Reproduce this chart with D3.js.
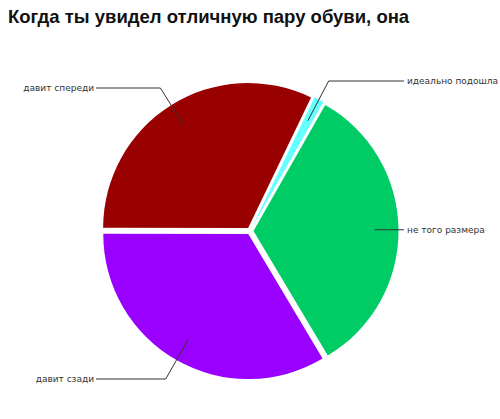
<!DOCTYPE html>
<html>
<head>
<meta charset="utf-8">
<script src="https://cdn.jsdelivr.net/npm/d3@7"></script>
<style>
  html, body { margin: 0; padding: 0; background: #fff; }
  svg { display: block; }
</style>
</head>
<body>
<svg id="chart" width="500" height="419"></svg>
<script>
// ---- data ----
const title = "Когда ты увидел отличную пару обуви, она";
const categories = ["идеально подошла", "не того размера", "давит сзади", "давит спереди"];
const values = [1.1, 33.2, 33.6, 32.1];
const colors = ["#66ffff", "#00cc66", "#9900ff", "#990000"];

// ---- layout ----
const W = 500, H = 419;
const cx = 250, cy = 231, R = 145, explode = 3.5, anchorR = 124.5;
const startDeg = 25.7;
const labelLineY = [81, null, 379, 88];   // null => horizontal at anchor height
const leftTextX = 94, rightTextX = 407;

const svg = d3.select("#chart");

svg.append("text")
  .attr("x", 8).attr("y", 23)
  .attr("font-family", "'Liberation Sans', Arial, sans-serif")
  .attr("font-size", 18.5).attr("font-weight", "bold")
  .attr("fill", "#111")
  .text(title);

const pie = d3.pie().sort(null).value(d => d)
  .startAngle(startDeg * Math.PI / 180)
  .endAngle(startDeg * Math.PI / 180 + 2 * Math.PI);
const arcs = pie(values);
const arc = d3.arc().innerRadius(0).outerRadius(R);

const g = svg.append("g").attr("transform", `translate(${cx},${cy})`);

g.selectAll("path.slice").data(arcs).join("path")
  .attr("class", "slice")
  .attr("d", arc)
  .attr("fill", (d, i) => colors[i])
  .attr("transform", d => {
    const a = (d.startAngle + d.endAngle) / 2;
    return `translate(${explode * Math.sin(a)},${-explode * Math.cos(a)})`;
  });

// ---- labels with leader lines ----
arcs.forEach((d, i) => {
  const a = (d.startAngle + d.endAngle) / 2;
  const sx = Math.sin(a), sy = -Math.cos(a);
  const ax = cx + anchorR * sx, ay = cy + anchorR * sy;
  const isRight = sx > 0;
  let ly = labelLineY[i];
  let pts;
  if (ly === null) {
    ly = ay;
    pts = [[ax, ay]];
  } else {
    const t = (ly - cy) / sy;
    pts = [[ax, ay], [cx + t * sx, ly]];
  }
  const endX = isRight ? rightTextX - 3 : leftTextX + 2;
  pts.push([endX, ly]);
  svg.append("path")
    .attr("d", d3.line()(pts))
    .attr("fill", "none")
    .attr("stroke", "#333")
    .attr("stroke-width", 1);
  svg.append("text")
    .attr("x", isRight ? rightTextX : leftTextX)
    .attr("y", ly + 3)
    .attr("text-anchor", isRight ? "start" : "end")
    .attr("font-family", "'DejaVu Sans', sans-serif")
    .attr("font-size", 9)
    .attr("fill", "#333")
    .text(categories[i]);
});
</script>
</body>
</html>
